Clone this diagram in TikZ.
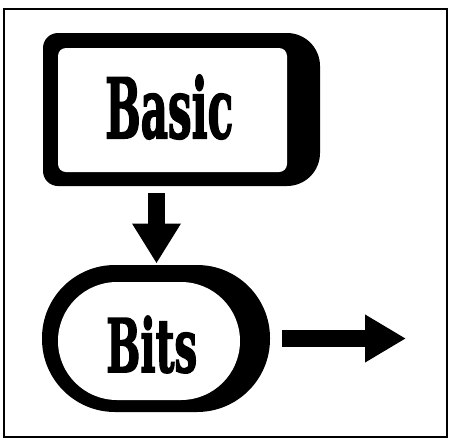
\documentclass[tikz,border=0pt]{standalone}
\usepackage{fontspec}
\setmainfont{DejaVu Serif}[BoldFeatures={FakeBold=2.5}]
\usetikzlibrary{arrows.meta}
\tikzset{
  frame/.style={draw=black, line width=2.2pt},
  ink/.style={fill=black},
  paper/.style={fill=white},
  label/.style={inner sep=0pt, anchor=base west},
  blockarrow/.style={draw=black, line width=17.5pt, line cap=butt,
    -{Triangle[length=40pt, width=46pt]}},
}
\begin{document}
\begin{tikzpicture}[x=1pt, y=-1pt]
\useasboundingbox (0,0) rectangle (450,440);
\node[frame, minimum width=443pt, minimum height=428pt, inner sep=0pt] (frame) at (225.5,223) {};
% Basic box
\fill[ink] (43,110) [rounded corners=15pt] -- (43,33) -- (180,33) [rounded corners=33pt] -- (320,33) -- (320,186) -- (180,186) [rounded corners=15pt] -- (43,186) -- cycle;
\fill[paper, rounded corners=8pt] (58,48) rectangle (287,172);
\node[inner sep=0pt, minimum width=277pt, minimum height=153pt] (basicbox) at (181.5,109.5) {};
\node[label] (basic) at (105,138) {\resizebox{128pt}{63pt}{\textbf{Basic}}};
% Bits oval
\fill[ink, rounded corners=73pt] (42,265) rectangle (270,412);
\fill[paper, rounded corners=59pt] (58,282) rectangle (240,400);
\node[inner sep=0pt, minimum width=228pt, minimum height=147pt] (bitsoval) at (156,338.5) {};
\node[label] (bits) at (106,372) {\resizebox{91pt}{56pt}{\textbf{Bits}}};
% connectors
\coordinate (downstart) at (156.5,193);
\coordinate (downend) at (156.5,263.5);
\draw[blockarrow] (downstart) -- (downend);
\coordinate (rightstart) at (282,338.5);
\coordinate (rightend) at (406,338.5);
\draw[blockarrow, -{Triangle[length=41pt, width=45pt]}] (rightstart) -- (rightend);
\end{tikzpicture}
\end{document}
